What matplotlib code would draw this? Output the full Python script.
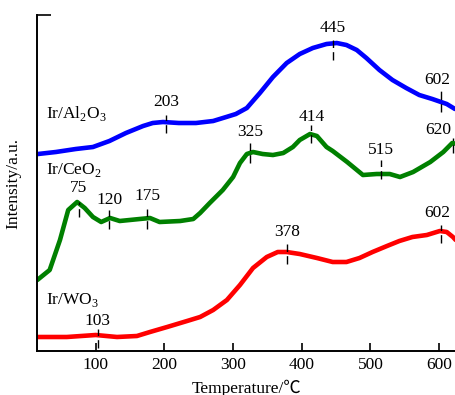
import matplotlib.pyplot as plt

plt.rcParams["font.family"] = ["Liberation Serif", "Noto Sans CJK SC"]
plt.rcParams["mathtext.fontset"] = "custom"
plt.rcParams["mathtext.rm"] = "Liberation Serif"

# TPR traces, temperature (C) vs intensity (a.u., offset stacked)
al_t = [16, 42, 71, 96, 120, 144, 169, 183, 198, 221, 246, 271, 290, 304, 320, 339,
        358, 378, 397, 416, 436, 451, 465, 480, 494, 513, 532, 552, 571, 590, 611, 623]
al_i = [197, 199, 202, 204, 210, 218, 225, 228, 229, 228, 228, 230, 234, 237, 243, 258,
        274, 288, 297, 303, 307, 308, 306, 301, 293, 281, 271, 263, 256, 252, 247, 242]

ce_t = [15, 33, 48, 60, 73, 84, 96, 108, 121, 135, 164, 179, 193, 223, 242, 252,
        266, 285, 300, 310, 320, 329, 343, 358, 373, 387, 397, 412, 422, 436, 445,
        466, 489, 509, 528, 543, 562, 587, 606, 619, 626]
ce_i = [71, 81, 111, 141, 149, 143, 134, 129, 133, 130, 132, 133, 129, 130, 132, 138,
        148, 161, 174, 188, 197, 199, 197, 196, 198, 204, 211, 217, 215, 204, 200,
        189, 176, 177, 177, 174, 179, 189, 199, 208, 207]

wo_t = [15, 58, 100, 131, 160, 179, 204, 233, 252, 271, 291, 310, 329, 349, 365, 378,
        397, 422, 445, 465, 484, 503, 524, 542, 561, 582, 601, 611, 620, 624]
wo_i = [14, 14, 16, 14, 15, 19, 24, 30, 34, 41, 51, 66, 83, 94, 99, 99,
        97, 93, 89, 89, 93, 99, 105, 110, 114, 116, 120, 119, 114, 111]

# peak temperatures marked on each trace
al_peaks = [203, 445, 602]
ce_peaks = [75, 120, 175, 325, 414, 515, 620]
wo_peaks = [103, 378, 602]

fig = plt.figure(figsize=(4.56, 3.95), dpi=100)
ax = fig.add_axes([0.0818, 0.1114, 0.916, 0.8506])

line_kw = dict(lw=3.3, solid_capstyle="round", solid_joinstyle="round")
ax.plot(al_t, al_i, color="#0000ff", **line_kw)
ax.plot(ce_t, ce_i, color="#008000", **line_kw)
ax.plot(wo_t, wo_i, color="#ff0000", **line_kw)

# marker segment (bottom, top) and label height for each peak
al_marks = [(218, 236, 249), (291, 311, 323), (239, 261, 271)]
ce_marks = [(134, 149, 163), (122, 141, 151), (122, 142, 155), (188, 208, 219),
            (208, 226, 234), (172, 191, 201), (198, 213, 221)]
wo_marks = [(3, 22, 30), (87, 107, 119), (108, 126, 138)]

fs = 12.5
for peaks, marks in [(al_peaks, al_marks), (ce_peaks, ce_marks), (wo_peaks, wo_marks)]:
    for p, (y0, y1, ty) in zip(peaks, marks):
        ax.plot([p, p], [y0, y1], color="black", lw=1.0, ls=(0, (6, 3)))
        tx = p
        if p == 620:
            tx = 598
        elif p == 602:
            tx = 597
        ax.text(tx, ty, str(p), ha="center", va="center", fontsize=fs)

ax.text(27, 238, r"Ir/Al$_\mathregular{2}$O$_\mathregular{3}$", fontsize=fs, va="center")
ax.text(27, 181, r"Ir/CeO$_\mathregular{2}$", fontsize=fs, va="center")
ax.text(27, 51, r"Ir/WO$_\mathregular{3}$", fontsize=fs, va="center")

ax.set_xlim(15, 623)
ax.set_ylim(0, 336)
ax.set_xticks([100, 200, 300, 400, 500, 600])
ax.set_yticks([336])
ax.set_yticklabels([])
ax.tick_params(axis="x", direction="in", length=6, width=1.2, labelsize=fs, pad=4)
ax.tick_params(axis="y", direction="in", length=10, width=1.2)
for side in ["top", "right"]:
    ax.spines[side].set_visible(False)
for side in ["left", "bottom"]:
    ax.spines[side].set_linewidth(1.4)

ax.set_xlabel("Temperature/℃", fontsize=fs, labelpad=5)
ax.set_ylabel("Intensity/a.u.", fontsize=fs, labelpad=8)

fig.savefig("out.png", dpi=100)
